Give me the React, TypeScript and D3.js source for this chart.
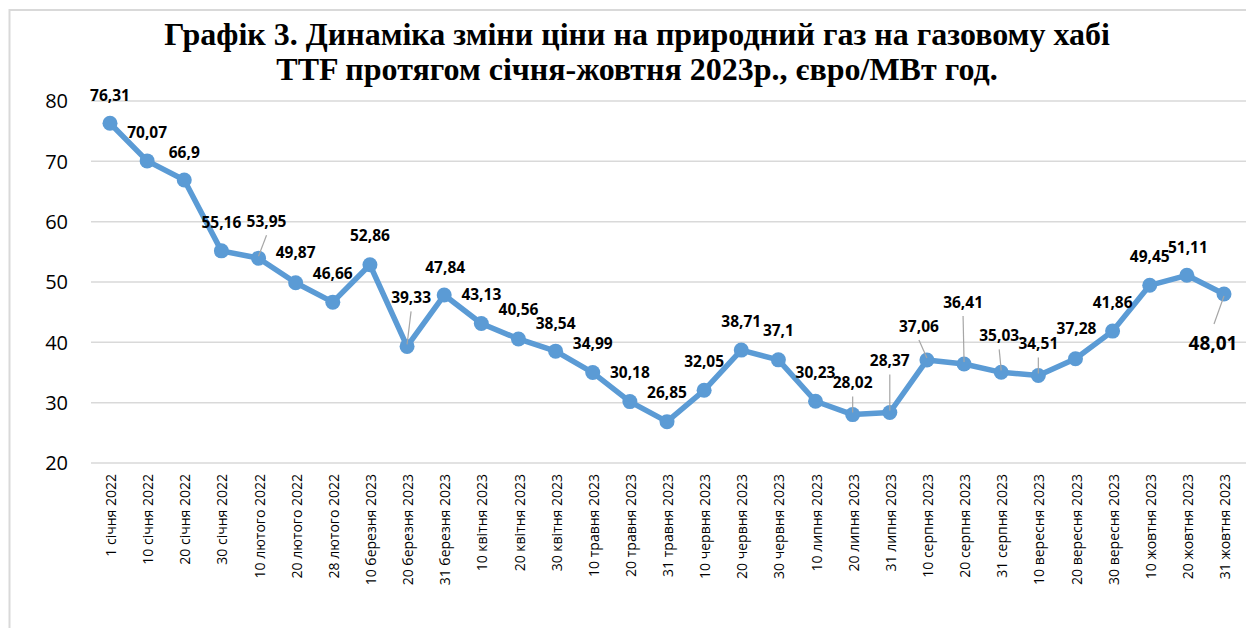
import React from "react";
import * as d3 from "d3";

const categories: string[] = [
  "1 січня 2022", "10 січня 2022", "20 січня 2022", "30 січня 2022",
  "10 лютого 2022", "20 лютого 2022", "28 лютого 2022",
  "10 березня 2023", "20 березня 2023", "31 березня 2023",
  "10 квітня 2023", "20 квітня 2023", "30 квітня 2023",
  "10 травня 2023", "20 травня 2023", "31 травня 2023",
  "10 червня 2023", "20 червня 2023", "30 червня 2023",
  "10 липня 2023", "20 липня 2023", "31 липня 2023",
  "10 серпня 2023", "20 серпня 2023", "31 серпня 2023",
  "10 вересня 2023", "20 вересня 2023", "30 вересня 2023",
  "10 жовтня 2023", "20 жовтня 2023", "31 жовтня 2023",
];

const prices: number[] = [
  76.31, 70.07, 66.9, 55.16, 53.95, 49.87, 46.66, 52.86, 39.33, 47.84,
  43.13, 40.56, 38.54, 34.99, 30.18, 26.85, 32.05, 38.71, 37.1, 30.23,
  28.02, 28.37, 37.06, 36.41, 35.03, 34.51, 37.28, 41.86, 49.45, 51.11, 48.01,
];

const yTicks: number[] = [20, 30, 40, 50, 60, 70, 80];

const titleLines: string[] = [
  "Графік 3. Динаміка зміни ціни на природний газ на газовому хабі",
  "TTF протягом січня-жовтня 2023р., євро/МВт год.",
];

// layout of data labels (pixel offsets of label centre from its point), leader flag
const labelLayout: [number, number, boolean][] = [
  [0, -28, false], [0, -28, false], [0, -28, false], [0, -28, false],
  [8, -37, true], [0, -30, false], [0, -29, false], [0, -29, false],
  [4, -49, true], [1, -28, false], [0, -29, false], [0, -30, false],
  [0, -28, false], [0, -29, false], [0, -29, false], [0, -29, false],
  [0, -29, false], [0, -29, false], [0, -29, false], [0, -29, false],
  [0, -32, true], [0, -52, true], [-8, -34, true], [-1, -62, true],
  [-2, -37, true], [0, -32, true], [1, -30, false], [0, -29, false],
  [0, -29, false], [1, -28, false], [-11, 49, true],
];

const fmt = (v: number) => String(v).replace(".", ",");

export default function App() {
  const W = 1246;
  const H = 628;
  const x = d3.scalePoint<string>().domain(categories).range([110, 1224]);
  const y = d3.scaleLinear().domain([20, 80]).range([463, 101]);

  const pts = categories.map((c, i) => ({ c, v: prices[i], px: x(c) as number, py: y(prices[i]) }));
  const line = d3
    .line<(typeof pts)[number]>()
    .x((d) => d.px)
    .y((d) => d.py);

  const blue = "#5B9BD5";
  const sans = "'Open Sans', 'Noto Sans', sans-serif";

  return (
    <svg
      width={W}
      height={H}
      viewBox={`0 0 ${W} ${H}`}
      style={{ position: "absolute", left: 0, top: 0, background: "#fff" }}
    >
      <rect x={0} y={0} width={W} height={H} fill="#fff" />
      {/* chart frame */}
      <rect x={9.5} y={10} width={W + 20} height={H + 20} fill="none" stroke="#d9d9d9" strokeWidth={2} />

      {/* title */}
      {titleLines.map((t, i) => (
        <text
          key={i}
          x={637}
          y={45 + i * 35}
          textAnchor="middle"
          fontFamily="'Liberation Serif', 'Times New Roman', serif"
          fontWeight="bold"
          fontSize={32}
          fill="#000"
        >
          {t}
        </text>
      ))}

      {/* gridlines */}
      {yTicks.map((t) => (
        <line key={t} x1={91} x2={W} y1={y(t)} y2={y(t)} stroke="#d9d9d9" strokeWidth={1.5} />
      ))}
      {yTicks.map((t) => (
        <text
          key={"l" + t}
          x={68}
          y={y(t)}
          dy="0.36em"
          textAnchor="end"
          fontFamily={sans}
          fontSize={20}
          fill="#000"
        >
          {t}
        </text>
      ))}

      {/* x labels */}
      {categories.map((c) => (
        <text
          key={c}
          transform={`translate(${(x(c) as number) + 1},474) rotate(-90)`}
          dy="0.36em"
          textAnchor="end"
          fontFamily={sans}
          fontSize={14}
          fill="#000"
        >
          {c}
        </text>
      ))}

      {/* series */}
      <path d={line(pts) || ""} fill="none" stroke={blue} strokeWidth={5.5} strokeLinejoin="round" />
      {pts.map((p) => (
        <circle key={p.c} cx={p.px} cy={p.py} r={7.5} fill={blue} />
      ))}

      {/* leaders */}
      {pts.map((p, i) => {
        const [dx, dy, lead] = labelLayout[i];
        if (!lead) return null;
        const lx = p.px + dx;
        const ly = p.py + dy;
        const below = dy > 0;
        return (
          <line
            key={"ld" + i}
            x1={lx + (below ? 1 : 0)}
            y1={below ? ly - 19 : ly + 14}
            x2={p.px}
            y2={below ? p.py + 2 : p.py - 2}
            stroke="#a6a6a6"
            strokeWidth={1.2}
          />
        );
      })}

      {/* data labels */}
      {pts.map((p, i) => {
        const [dx, dy] = labelLayout[i];
        const last = i === pts.length - 1;
        return (
          <text
            key={"dl" + i}
            x={p.px + dx}
            y={p.py + dy}
            dy="0.36em"
            textAnchor="middle"
            fontFamily={sans}
            fontWeight="bold"
            fontSize={last ? 19 : 15.5}
            fill="#000"
          >
            {fmt(p.v)}
          </text>
        );
      })}
    </svg>
  );
}
